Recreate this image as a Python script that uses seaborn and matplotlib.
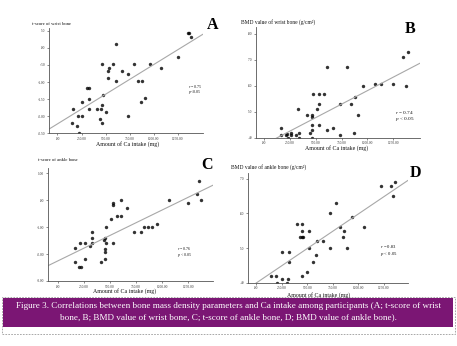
import numpy as np
import pandas as pd
import seaborn as sns
import matplotlib
matplotlib.use("Agg")
import matplotlib.pyplot as plt
from matplotlib.patches import Rectangle

# ---------------- data ----------------
intake_A = [156, 153, 201, 208, 219, 257, 257, 302, 326, 330, 330, 406, 441, 455, 458,
            462, 462, 469, 507, 524, 524, 531, 573, 604, 608, 670, 733, 729, 799, 837,
            875, 868, 906, 962, 1069, 1253, 1351, 1368, 1385]
tscore_wrist = [-1.78, -2.19, -2.28, -1.99, -2.48, -1.99, -1.58, -1.18, -1.18, -1.49, -1.78,
                -1.78, -2.09, -1.78, -1.68, -2.20, -0.48, -1.38, -1.89, -0.88, -0.68, -0.58,
                -0.48, -0.98, 0.12, -0.68, -0.78, -1.99, -0.48, -0.98, -0.98, -1.58, -1.48,
                -0.48, -0.58, -0.28, 0.42, 0.42, 0.32]

intake_B = [159, 159, 205, 218, 224, 260, 260, 308, 331, 331, 328, 409, 442, 458, 464,
            464, 464, 464, 474, 510, 529, 529, 532, 575, 607, 610, 669, 737, 737, 802,
            838, 870, 880, 909, 961, 1075, 1133, 1253, 1348, 1371, 1390]
bmd_wrist = [0.438, 0.409, 0.409, 0.416, 0.400, 0.418, 0.409, 0.409, 0.418, 0.400, 0.510,
             0.488, 0.418, 0.486, 0.478, 0.447, 0.428, 0.400, 0.568, 0.509, 0.568, 0.530,
             0.447, 0.568, 0.428, 0.670, 0.438, 0.530, 0.409, 0.670, 0.530, 0.418, 0.557,
             0.488, 0.598, 0.607, 0.606, 0.607, 0.710, 0.598, 0.729]

intake_C = [160, 160, 205, 218, 215, 256, 260, 308, 324, 324, 324, 410, 439, 455, 455,
            455, 458, 449, 462, 506, 529, 529, 529, 571, 603, 606, 663, 728, 795, 830,
            865, 900, 952, 1064, 1247, 1340, 1359, 1375]
tscore_ankle = [-1.79, -2.29, -2.49, -2.49, -1.59, -1.59, -2.19, -1.69, -1.20, -1.41, -1.59,
                -2.29, -1.49, -2.19, -1.92, -1.82, -1.59, -1.39, -1.00, -0.70, -0.17, -0.10,
                -1.59, -0.60, -0.60, 0.00, -0.30, -1.20, -1.20, -1.00, -1.00, -1.00, -0.88,
                0.00, -0.10, 0.21, 0.70, 0.00]

intake_D = [144, 193, 206, 248, 248, 297, 313, 317, 317, 395, 447, 444, 428, 450, 460,
            447, 493, 516, 516, 558, 588, 594, 653, 718, 718, 783, 819, 858, 849, 888,
            940, 1054, 1227, 1325, 1344, 1361]
bmd_ankle = [0.420, 0.420, 0.400, 0.410, 0.490, 0.400, 0.410, 0.490, 0.461, 0.570, 0.570,
             0.550, 0.531, 0.531, 0.531, 0.420, 0.431, 0.550, 0.500, 0.461, 0.480, 0.520,
             0.520, 0.600, 0.500, 0.630, 0.561, 0.550, 0.531, 0.500, 0.590, 0.561, 0.680,
             0.680, 0.650, 0.690]

x_ticks = [0, 250, 500, 750, 1000, 1250]
x_ticklabels = [".00", "250.00", "500.00", "750.00", "1000.00", "1250.00"]

yticks_A = [0.5, 0.0, -0.5, -1.0, -1.5, -2.0, -2.5]
yticklabels_A = [".50", ".00", "-.50", "-1.00", "-1.50", "-2.00", "-2.50"]
yticks_B = [0.8, 0.7, 0.6, 0.5, 0.4]
yticklabels_B = [".80", ".70", ".60", ".50", ".40"]
yticks_C = [1.0, 0.0, -1.0, -2.0, -3.0]
yticklabels_C = ["1.00", ".00", "-1.00", "-2.00", "-3.00"]
yticks_D = [0.7, 0.6, 0.5, 0.4]
yticklabels_D = [".70", ".60", ".50", ".40"]

ylabels = ["t-score of wrist bone", "BMD value of wrist bone (g/cm²)",
           "t-score of ankle bone", "BMD value of ankle bone (g/cm²)"]
letters = ["A", "B", "C", "D"]
r_texts = ["$r$ = 0.75", "$r$ = 0.74", "$r$ = 0.76", "$r$ = 0.83"]
p_texts = ["$p$<0.05", "$p$ < 0.05", "$p$ < 0.05", "$p$ < 0.05"]
xlabel = "Amount of Ca intake (mg)"
caption1 = ("Figure 3. Correlations between bone mass density parameters and Ca intake "
            "among participants (A; t-score of wrist")
caption2 = "bone, B; BMD value of wrist bone, C; t-score of ankle bone, D; BMD value of ankle bone)."

# ---------------- style ----------------
sns.set_style("white")
plt.rcParams["font.family"] = ["Liberation Serif", "DejaVu Serif"]
plt.rcParams["mathtext.fontset"] = "custom"
plt.rcParams["mathtext.rm"] = "Liberation Serif"
plt.rcParams["mathtext.it"] = "Liberation Serif:italic"

W, H = 457, 346
fig = plt.figure(figsize=(W / 100, H / 100), dpi=100)
fig.patch.set_facecolor("white")


def px_axes(left, right, top, bottom):
    return fig.add_axes([left / W, 1 - bottom / H, (right - left) / W, (bottom - top) / H])


panels = [
    dict(box=(49, 203, 28, 133.3), x=intake_A, y=tscore_wrist, xlim=(-88, 1510), ylim=(-2.5, 0.58),
         yt=yticks_A, ytl=yticklabels_A, ylab=(32, 24, 3.4), letter=(213, 25),
         xlab=(128, 144), rt=(188, 86, 92, 2.9)),
    dict(box=(256, 420, 27, 137.7), x=intake_B, y=bmd_wrist, xlim=(-82, 1511), ylim=(0.4, 0.825),
         yt=yticks_B, ytl=yticklabels_B, ylab=(241, 22, 4.0), letter=(410, 29),
         xlab=(337, 148), rt=(395, 113, 119, 3.8)),
    dict(box=(48, 213, 168, 281), x=intake_C, y=tscore_ankle, xlim=(-96, 1490), ylim=(-3.0, 1.19),
         yt=yticks_C, ytl=yticklabels_C, ylab=(38, 160, 3.4), letter=(207, 165),
         xlab=(125, 291), rt=(177, 248, 255, 2.9)),
    dict(box=(248, 408, 173, 282.7), x=intake_D, y=bmd_ankle, xlim=(-81, 1487), ylim=(0.4, 0.717),
         yt=yticks_D, ytl=yticklabels_D, ylab=(231, 167, 4.0), letter=(415, 173),
         xlab=(319, 295), rt=(380, 247, 254, 3.4)),
]

for i, p in enumerate(panels):
    ax = px_axes(*p["box"])
    df = pd.DataFrame({"intake": p["x"], "value": p["y"]})
    ax.set_xlim(*p["xlim"])
    ax.set_ylim(*p["ylim"])
    sns.regplot(data=df, x="intake", y="value", ax=ax, ci=None, truncate=False,
                scatter_kws=dict(s=6, color="black", linewidths=0),
                line_kws=dict(color="#a8a8a8", lw=0.8))
    ax.set_xlim(*p["xlim"])
    ax.set_ylim(*p["ylim"])
    ax.set_xlabel("")
    ax.set_ylabel("")
    ax.set_xticks(x_ticks)
    ax.set_xticklabels(x_ticklabels)
    ax.set_yticks(p["yt"])
    ax.set_yticklabels(p["ytl"])
    ax.tick_params(axis="both", labelsize=2.6, length=1.2, width=0.4, pad=1.5,
                   colors="#333333", bottom=True, left=True)
    for s in ("top", "right"):
        ax.spines[s].set_visible(False)
    for s in ("left", "bottom"):
        ax.spines[s].set_color("#555555")
        ax.spines[s].set_linewidth(0.6)
    ax.patch.set_alpha(0)

    lx, ly, lfs = p["ylab"]
    fig.text(lx / W, 1 - ly / H, ylabels[i], ha="left", va="center", fontsize=lfs, color="#111111")
    cx, cy = p["letter"]
    fig.text(cx / W, 1 - cy / H, letters[i], ha="center", va="center", fontsize=11.5,
             fontweight="bold", color="black")
    xx, xy = p["xlab"]
    fig.text(xx / W, 1 - xy / H, xlabel, ha="center", va="center", fontsize=4.2, color="#111111")
    rx, ry1, ry2, rfs = p["rt"]
    fig.text(rx / W, 1 - ry1 / H, r_texts[i], ha="left", va="center", fontsize=rfs, color="#111111")
    fig.text(rx / W, 1 - ry2 / H, p_texts[i], ha="left", va="center", fontsize=rfs, color="#111111")

# caption box
fig.patches.append(Rectangle((1.5 / W, 1 - 334 / H), 453 / W, 37 / H, transform=fig.transFigure,
                             facecolor="none", edgecolor="#9a9a9a", lw=0.6, ls=(0, (2, 1.5))))
fig.patches.append(Rectangle((3 / W, 1 - 327 / H), 450 / W, 29 / H, transform=fig.transFigure,
                             facecolor="#7b1674", edgecolor="none"))
fig.text(228.5 / W, 1 - 306 / H, caption1, ha="center", va="center", fontsize=6.6, color="white")
fig.text(228.5 / W, 1 - 317 / H, caption2, ha="center", va="center", fontsize=6.6, color="white")

fig.savefig("out.png", dpi=100, facecolor="white")
